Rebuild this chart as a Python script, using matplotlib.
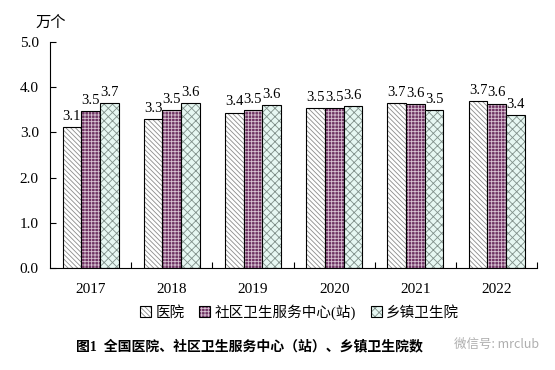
import matplotlib
matplotlib.use('Agg')
import matplotlib.pyplot as plt
import numpy as np
from matplotlib.legend_handler import HandlerTuple

plt.rcParams['font.family'] = ['Liberation Serif', 'Noto Sans CJK SC']
plt.rcParams['hatch.linewidth'] = 0.6

# data (万个)
years = ['2017', '2018', '2019', '2020', '2021', '2022']
hospital = [3.11, 3.30, 3.44, 3.54, 3.66, 3.70]
community = [3.47, 3.50, 3.50, 3.54, 3.62, 3.64]
township = [3.66, 3.65, 3.61, 3.58, 3.49, 3.39]
series_names = ['医院', '社区卫生服务中心(站)', '乡镇卫生院']

fig = plt.figure(figsize=(5.55, 3.7), dpi=100)
ax = fig.add_axes([0.090, 0.276, 0.878, 0.610])

x = np.arange(len(years))
w = 0.23
styles = [
    dict(face='white', hatch='\\' * 7, hcolor='#8c8c8c'),
    dict(face='#6e3262', hatch='+' * 5, hcolor='#d9c3d3'),
    dict(face='#e6f7f2', hatch='x' * 4, hcolor='#7f8f89'),
]
handles = []
for i, (vals, st) in enumerate(zip([hospital, community, township], styles)):
    pos = x + (i - 1) * w
    b1 = ax.bar(pos, vals, w, color=st['face'], hatch=st['hatch'],
                edgecolor=st['hcolor'], linewidth=0)
    b2 = ax.bar(pos, vals, w, fill=False, edgecolor='black', linewidth=0.8)
    ax.bar_label(b2, labels=[f'{v:.1f}' for v in vals], padding=3, fontsize=10.5)
    handles.append((b1[0], b2[0]))

ax.set_xlim(-0.5, len(years) - 0.5)
ax.set_ylim(0, 5.0)
ax.set_yticks(np.arange(0, 5.01, 1.0))
ax.set_yticklabels([f'{v:.1f}' for v in np.arange(0, 5.01, 1.0)], fontsize=11)
ax.tick_params(axis='y', direction='in', length=4, width=0.8, pad=8)

ax.set_xticks(x)
ax.set_xticklabels(years, fontsize=11)
ax.set_xticks(np.arange(0.5, len(years), 1.0), minor=True)
ax.tick_params(axis='x', which='major', length=0, pad=11)
ax.tick_params(axis='x', which='minor', direction='in', length=4, width=0.8)

for s in ['top', 'right']:
    ax.spines[s].set_visible(False)
for s in ['left', 'bottom']:
    ax.spines[s].set_linewidth(0.8)

fig.text(0.092, 0.938, '万个', fontsize=11, ha='center', va='center')

ax.legend(handles, series_names, handler_map={tuple: HandlerTuple(ndivide=1, pad=0)},
          loc='center', bbox_to_anchor=(0.54, 0.157), bbox_transform=fig.transFigure,
          ncol=3, frameon=False, fontsize=10.5, handlelength=0.75, handleheight=0.75,
          handletextpad=0.3, columnspacing=1.0, borderaxespad=0)

fig.text(0.45, 0.064, '图1  全国医院、社区卫生服务中心（站）、乡镇卫生院数',
         fontsize=10, fontweight='bold', ha='center', va='center')
fig.text(0.895, 0.068, '微信号: mrclub', fontsize=9, color='#9a9a9a', alpha=0.8,
         ha='center', va='center', family=['Noto Sans CJK SC', 'DejaVu Sans'])

fig.savefig('out.png', dpi=100)
